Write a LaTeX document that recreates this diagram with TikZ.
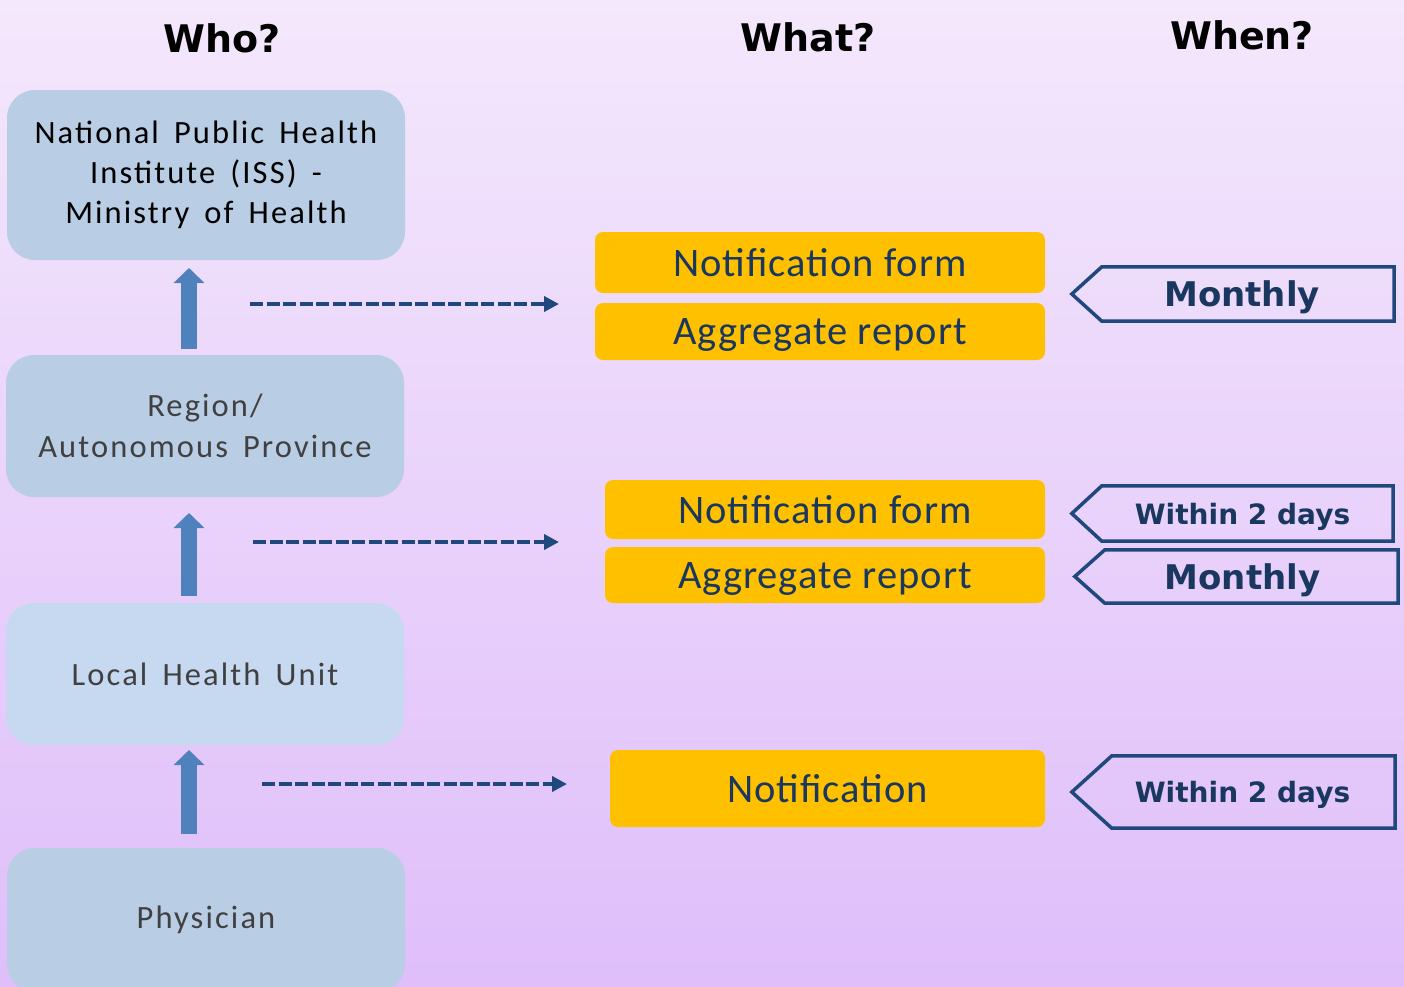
\documentclass[tikz,border=0pt]{standalone}
\usepackage{fontspec}
\setmainfont{Carlito}
\newfontfamily\boxfont{Carlito}[LetterSpace=6.5,WordSpace=1.6]
\newfontfamily\orfont{Carlito}[LetterSpace=2.5]
\newfontfamily\headfont{DejaVu Sans}
\usetikzlibrary{arrows.meta}
\definecolor{bgtop}{RGB}{244,232,252}
\definecolor{bgbot}{RGB}{223,190,250}
\definecolor{whobox}{RGB}{185,205,229}
\definecolor{whoboxlight}{RGB}{198,217,241}
\definecolor{blockblue}{RGB}{79,129,189}
\definecolor{navy}{RGB}{31,73,125}
\definecolor{navytext}{RGB}{25,55,95}
\definecolor{orangebox}{RGB}{255,192,0}
\definecolor{graytext}{RGB}{64,64,64}
\tikzset{
  heading/.style={font=\headfont\bfseries\fontsize{38}{44}\selectfont, text=black, inner sep=0pt},
  whonode/.style={fill=whobox, rounded corners=28pt, minimum width=398pt, inner sep=0pt, align=center, font=\boxfont\fontsize{32.5}{41}\selectfont},
  upblock/.style={draw=blockblue, line width=16pt, -{Triangle[width=30pt,length=15pt]}},
  dasharrow/.style={draw=navy, line width=4pt, dash pattern=on 13pt off 3.5pt, -{Triangle[width=15pt,length=15pt]}},
  whatnode/.style={fill=orangebox, rounded corners=8pt, inner sep=0pt, text depth=0pt, text=navytext, font=\orfont\fontsize{40.5}{44}\selectfont},
  tagnode/.style={inner sep=0pt, text depth=0pt, text=navytext},
  tagline/.style={draw=navy, line width=3.5pt, line join=miter},
}
\begin{document}
\begin{tikzpicture}[x=1pt,y=-1pt]
\useasboundingbox (0,0) rectangle (1404,986);
\fill[top color=bgtop, bottom color=bgbot] (0,0) rectangle (1404,986);

% headings
\node[heading] (who) at (222,38) {Who?};
\node[heading] (what) at (808,37) {What?};
\node[heading] (when) at (1242,35) {When?};

% who boxes
\node[whonode, minimum height=170pt, text=black] (b1) at (206,175) {National Public Health\\[-1pt]Institute (ISS) -\\[-1pt]Ministry of Health};
\node[whonode, minimum height=142pt, text=graytext] (b2) at (205,426) {Region/\\Autonomous Province};
\node[whonode, minimum height=142pt, fill=whoboxlight, text=graytext] (b3) at (205,674) {Local Health Unit};
\node[whonode, minimum height=144pt, text=graytext] (b4) at (206,920) {Physician};

% up arrows
\coordinate (u1s) at (189,349); \coordinate (u1e) at (189,268);
\coordinate (u2s) at (189,596); \coordinate (u2e) at (189,513);
\coordinate (u3s) at (189,834); \coordinate (u3e) at (189,750);
\draw[upblock] (u1s) -- (u1e);
\draw[upblock] (u2s) -- (u2e);
\draw[upblock] (u3s) -- (u3e);

% dashed arrows
\coordinate (d1s) at (250,304); \coordinate (d1e) at (559,304);
\coordinate (d2s) at (253,542); \coordinate (d2e) at (559,542);
\coordinate (d3s) at (262,784); \coordinate (d3e) at (567,784);
\draw[dasharrow] (d1s) -- (d1e);
\draw[dasharrow] (d2s) -- (d2e);
\draw[dasharrow] (d3s) -- (d3e);

% what boxes
\node[whatnode, minimum width=450pt, minimum height=61pt] (nf1) at (820,262.5) {Notification form};
\node[whatnode, minimum width=450pt, minimum height=57pt] (ar1) at (820,331.5) {Aggregate report};
\node[whatnode, minimum width=440pt, minimum height=59pt] (nf2) at (825,509.5) {Notification form};
\node[whatnode, minimum width=440pt, minimum height=56pt] (ar2) at (825,575) {Aggregate report};
\node[whatnode, minimum width=435pt, minimum height=77pt] (nt) at (827.5,788.5) {Notification};

% when tags
\node[tagnode, minimum width=292pt, minimum height=54pt, font=\headfont\bfseries\fontsize{34}{40}\selectfont] (m1) at (1248,294) {Monthly\kern12pt};
\draw[tagline] (m1.north west) -- (m1.north east) -- (m1.south east) -- (m1.south west) -- ([xshift=-30pt]m1.west) -- cycle;
\node[tagnode, minimum width=291pt, minimum height=55pt, font=\headfont\bfseries\fontsize{28}{34}\selectfont] (w1) at (1247.5,513.5) {Within 2 days\kern10pt};
\draw[tagline] (w1.north west) -- (w1.north east) -- (w1.south east) -- (w1.south west) -- ([xshift=-30pt]w1.west) -- cycle;
\node[tagnode, minimum width=293pt, minimum height=53pt, font=\headfont\bfseries\fontsize{34}{40}\selectfont] (m2) at (1251.5,576.5) {Monthly\kern18pt};
\draw[tagline] (m2.north west) -- (m2.north east) -- (m2.south east) -- (m2.south west) -- ([xshift=-30pt]m2.west) -- cycle;
\node[tagnode, minimum width=283pt, minimum height=72pt, font=\headfont\bfseries\fontsize{28}{34}\selectfont] (w2) at (1253.5,792) {Within 2 days\kern22pt};
\draw[tagline] (w2.north west) -- (w2.north east) -- (w2.south east) -- (w2.south west) -- ([xshift=-40pt]w2.west) -- cycle;
\end{tikzpicture}
\end{document}
